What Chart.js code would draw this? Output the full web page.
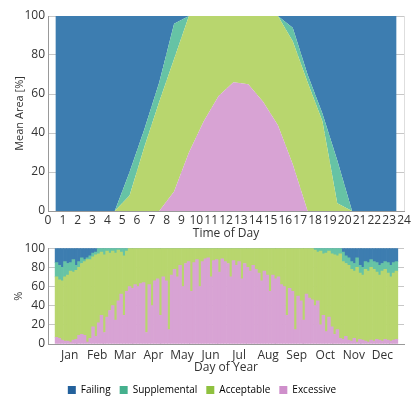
<!DOCTYPE html>
<html>
<head>
<meta charset="utf-8">
<script src="https://cdn.jsdelivr.net/npm/chart.js@4.4.1/dist/chart.umd.min.js"></script>
<style>
  html, body { margin: 0; padding: 0; background: #fff; }
  #wrap { position: relative; width: 414px; height: 405px; overflow: hidden; }
  #hourWrap { position: absolute; left: 0; top: 0; width: 414px; height: 243px; }
  #dayWrap { position: absolute; left: 0; top: 238px; width: 414px; height: 167px; }
</style>
</head>
<body>
<div id="wrap">
  <div id="hourWrap"><canvas id="hourChart"></canvas></div>
  <div id="dayWrap"><canvas id="dayChart"></canvas></div>
</div>
<script>
// mean share of area per hour (bins centred on the half hour)
const hourCenters = [0.5, 1.5, 2.5, 3.5, 4.5, 5.5, 6.5, 7.5, 8.5, 9.5, 10.5, 11.5,
                     12.5, 13.5, 14.5, 15.5, 16.5, 17.5, 18.5, 19.5, 20.5, 21.5, 22.5, 23.5];
const hourFailing      = [100, 100, 100, 100, 100, 80, 58, 34, 4, 0, 0, 0, 0, 0, 0, 0, 6, 30, 50, 74, 100, 100, 100, 100];
const hourSupplemental = [0, 0, 0, 0, 0, 12, 9, 10, 18, 0, 0, 0, 0, 0, 0, 0, 7, 4, 4, 22, 0, 0, 0, 0];
const hourAcceptable   = [0, 0, 0, 0, 0, 8, 33, 56, 68, 70, 54, 41, 34, 35, 44, 56, 63, 66, 46, 4, 0, 0, 0, 0];
const hourExcessive    = [0, 0, 0, 0, 0, 0, 0, 0, 10, 30, 46, 59, 66, 65, 56, 44, 24, 0, 0, 0, 0, 0, 0, 0];

// share per day of year, in 3-day bins
const dayBinSize = 3;
const dayFailing = [
  15, 18, 20, 14, 16, 15, 12, 18, 14, 10,
  12, 10, 8, 5, 4, 0, 0, 0, 0, 0,
  0, 0, 0, 0, 0, 0, 0, 0, 0, 0,
  0, 0, 0, 0, 0, 0, 0, 0, 0, 0,
  0, 0, 0, 0, 0, 0, 0, 0, 0, 0,
  0, 0, 0, 0, 0, 0, 0, 0, 0, 0,
  0, 0, 0, 0, 0, 0, 0, 0, 0, 0,
  0, 0, 0, 0, 0, 0, 0, 0, 0, 0,
  0, 0, 0, 0, 0, 0, 0, 0, 0, 0,
  0, 0, 0, 0, 0, 0, 0, 0, 0, 0,
  0, 0, 4, 8, 10, 14, 16, 10, 18, 20,
  14, 15, 12, 14, 15, 18, 16, 14, 15, 18,
  15, 14
];
const daySupplemental = [
  15, 15, 14, 16, 12, 9, 13, 5, 6, 6,
  2, 2, 4, 4, 3, 6, 4, 7, 3, 5,
  3, 5, 2, 4, 8, 3, 0, 0, 0, 0,
  0, 0, 0, 0, 0, 0, 0, 0, 0, 0,
  0, 0, 0, 0, 0, 0, 0, 0, 0, 0,
  0, 0, 0, 0, 0, 0, 0, 0, 0, 0,
  0, 0, 0, 0, 0, 0, 0, 0, 0, 0,
  0, 0, 0, 0, 0, 0, 0, 0, 0, 0,
  0, 0, 0, 0, 0, 0, 0, 0, 0, 0,
  0, 0, 2, 4, 3, 6, 5, 3, 6, 7,
  8, 6, 10, 8, 8, 8, 8, 10, 8, 8,
  8, 9, 8, 8, 10, 10, 8, 8, 11, 12,
  11, 10
];
const dayAcceptable = [
  63, 61, 62, 67, 69, 74, 71, 72, 71, 74,
  77, 86, 82, 73, 85, 72, 66, 81, 69, 60,
  57, 70, 53, 44, 62, 42, 40, 42, 38, 40,
  37, 36, 88, 38, 60, 34, 32, 70, 30, 34,
  85, 28, 22, 30, 18, 40, 16, 14, 45, 15,
  12, 40, 14, 11, 10, 30, 13, 12, 25, 11,
  14, 16, 30, 13, 18, 14, 32, 16, 20, 24,
  18, 22, 26, 34, 24, 28, 45, 28, 32, 30,
  38, 40, 70, 42, 45, 85, 50, 55, 75, 48,
  52, 54, 58, 51, 77, 64, 82, 69, 76, 83,
  77, 88, 81, 76, 78, 75, 70, 78, 69, 68,
  75, 74, 76, 75, 70, 68, 73, 73, 70, 67,
  70, 71
];
const dayExcessive = [
  7, 6, 4, 3, 3, 2, 4, 5, 9, 10,
  9, 2, 6, 18, 8, 22, 30, 12, 28, 35,
  40, 25, 45, 52, 30, 55, 60, 58, 62, 60,
  63, 64, 12, 62, 40, 66, 68, 30, 70, 66,
  15, 72, 78, 70, 82, 60, 84, 86, 55, 85,
  88, 60, 86, 89, 90, 70, 87, 88, 75, 89,
  86, 84, 70, 87, 82, 86, 68, 84, 80, 76,
  82, 78, 74, 66, 76, 72, 55, 72, 68, 70,
  62, 60, 30, 58, 55, 15, 50, 45, 25, 52,
  48, 46, 40, 45, 20, 30, 13, 28, 18, 10,
  15, 6, 5, 8, 4, 3, 6, 2, 5, 4,
  3, 2, 4, 3, 5, 4, 3, 5, 4, 3,
  4, 5
];

const monthNames = ['Jan', 'Feb', 'Mar', 'Apr', 'May', 'Jun', 'Jul', 'Aug', 'Sep', 'Oct', 'Nov', 'Dec'];
const monthStarts = [0, 31, 59, 90, 120, 151, 181, 212, 243, 273, 304, 334, 365];

const seriesNames = ['Failing', 'Supplemental', 'Acceptable', 'Excessive'];
const fillColors = {
  Failing: '#3d7db0',
  Supplemental: '#66c3a5',
  Acceptable: '#b8d66e',
  Excessive: '#d8a3d4'
};
const swatchColors = {
  Failing: '#23619c',
  Supplemental: '#45b08d',
  Acceptable: '#8fc13f',
  Excessive: '#cf8fcb'
};

Chart.defaults.font.family = "'Open Sans', sans-serif";
Chart.defaults.font.size = 11;
Chart.defaults.color = '#333';
Chart.defaults.animation = false;

const gridDark = 'rgba(0,0,0,0.22)';
const gridLight = 'rgba(0,0,0,0.13)';

// ---- mean area by time of day ----
const hourSeries = {
  Failing: hourFailing,
  Supplemental: hourSupplemental,
  Acceptable: hourAcceptable,
  Excessive: hourExcessive
};
// stacked bottom-up: Excessive first
const hourDatasets = ['Excessive', 'Acceptable', 'Supplemental', 'Failing'].map((name, i) => ({
  label: name,
  data: hourSeries[name].map((v, j) => ({ x: hourCenters[j], y: v })),
  backgroundColor: fillColors[name],
  borderWidth: 0,
  pointRadius: 0,
  tension: 0,
  fill: i === 0 ? 'origin' : '-1'
}));

new Chart(document.getElementById('hourChart'), {
  type: 'line',
  data: { datasets: hourDatasets },
  options: {
    responsive: true,
    maintainAspectRatio: false,
    layout: { padding: { top: 16, right: 10, left: 0, bottom: 0 } },
    plugins: { legend: { display: false }, tooltip: { enabled: false } },
    scales: {
      x: {
        type: 'linear', min: 0, max: 24, z: 1,
        ticks: { stepSize: 1, autoSkip: false, maxRotation: 0, padding: 2, font: { size: 12 } },
        grid: { color: gridLight, drawTicks: false },
        border: { color: '#999' },
        title: { display: true, text: 'Time of Day', font: { size: 12 }, padding: { top: 0, bottom: 2 } },
        afterFit: (s) => { s.height = 32; }
      },
      y: {
        stacked: true, min: 0, max: 100, z: 1,
        ticks: { stepSize: 20, padding: 3, font: { size: 12 } },
        grid: { color: gridDark, drawTicks: false },
        border: { color: '#999' },
        title: { display: true, text: 'Mean Area [%]', font: { size: 11 }, padding: { top: 13, bottom: 0 } },
        afterFit: (s) => { s.width = 48; }
      }
    }
  }
});

// ---- share by day of year ----
const daySeries = {
  Failing: dayFailing,
  Supplemental: daySupplemental,
  Acceptable: dayAcceptable,
  Excessive: dayExcessive
};
const dayDatasets = ['Excessive', 'Acceptable', 'Supplemental', 'Failing'].map((name) => ({
  label: name,
  data: daySeries[name].map((v, j) => ({ x: j * dayBinSize + dayBinSize / 2, y: v })),
  backgroundColor: fillColors[name],
  borderWidth: 0,
  barPercentage: 1,
  categoryPercentage: 1
}));

new Chart(document.getElementById('dayChart'), {
  type: 'bar',
  data: { datasets: dayDatasets },
  options: {
    responsive: true,
    maintainAspectRatio: false,
    layout: { padding: { top: 10, right: 10, left: 0, bottom: 0 } },
    plugins: {
      tooltip: { enabled: false },
      legend: {
        position: 'bottom',
        labels: {
          boxWidth: 8, boxHeight: 8, padding: 9, font: { size: 10 },
          generateLabels: () => seriesNames.map((name) => ({
            text: name,
            fillStyle: swatchColors[name],
            strokeStyle: swatchColors[name],
            lineWidth: 0
          }))
        }
      }
    },
    scales: {
      x: {
        type: 'linear', min: 0, max: 365, stacked: true, z: 1,
        afterBuildTicks: (axis) => {
          const ticks = [];
          monthStarts.forEach((d, i) => {
            ticks.push({ value: d });
            if (i < 12) ticks.push({ value: (d + monthStarts[i + 1]) / 2 });
          });
          axis.ticks = ticks;
        },
        ticks: {
          autoSkip: false, maxRotation: 0, padding: 4, font: { size: 12 },
          callback: (v, i) => (i % 2 === 1 ? monthNames[(i - 1) / 2] : '')
        },
        grid: {
          color: (ctx) => (ctx.index % 2 === 0 ? gridDark : 'rgba(0,0,0,0)'),
          drawTicks: false
        },
        border: { color: '#999' },
        title: { display: true, text: 'Day of Year', font: { size: 12 }, padding: { top: 0, bottom: 1 } },
        afterFit: (s) => { s.height = 32; }
      },
      y: {
        stacked: true, min: 0, max: 100, z: 1,
        ticks: { stepSize: 20, padding: 3, font: { size: 12 } },
        grid: { color: gridDark, drawTicks: false },
        border: { color: '#999' },
        title: { display: true, text: '%', font: { size: 11 }, padding: { top: 12, bottom: 0 } },
        afterFit: (s) => { s.width = 48; }
      }
    }
  }
});
</script>
</body>
</html>
